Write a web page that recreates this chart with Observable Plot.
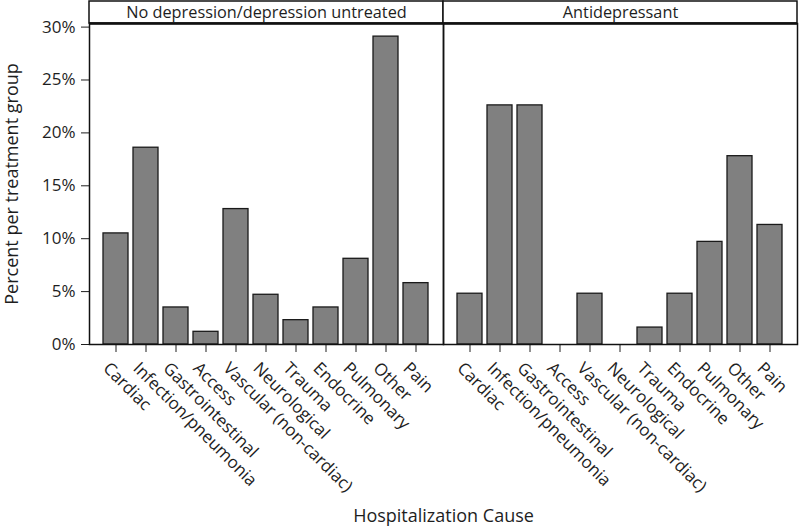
<!DOCTYPE html>
<html><head><meta charset="utf-8">
<script src="https://cdn.jsdelivr.net/npm/d3@7"></script>
<script src="https://cdn.jsdelivr.net/npm/@observablehq/plot@0.6"></script>
<style>body{margin:0;background:#fff}</style>
</head><body><div id="chart"></div>
<script>
const groups = ["No depression/depression untreated", "Antidepressant"];
const causes = ["Cardiac","Infection/pneumonia","Gastrointestinal","Access","Vascular (non-cardiac)","Neurological","Trauma","Endocrine","Pulmonary","Other","Pain"];
const untreated = [10.5, 18.6, 3.5, 1.2, 12.8, 4.7, 2.3, 3.5, 8.1, 29.1, 5.8];
const antidepressant = [4.8, 22.6, 22.6, 0, 4.8, 0, 1.6, 4.8, 9.7, 17.8, 11.3];
const yTicks = [0, 5, 10, 15, 20, 25, 30];

const data = [];
causes.forEach((c, i) => {
  data.push({group: groups[0], cause: c, pct: untreated[i]});
  data.push({group: groups[1], cause: c, pct: antidepressant[i]});
});
const headers = groups.map(g => ({group: g}));
const yMax = 30.34;
const headerUnits = 22 / 10.58;

const chart = Plot.plot({
  width: 800, height: 528,
  marginTop: 23, marginLeft: 88, marginRight: 3, marginBottom: 184,
  style: {fontFamily: "Open Sans", fontSize: "17px", color: "#1e1e1e", background: "white"},
  fx: {domain: groups, padding: 0, axis: null, label: null},
  x: {domain: causes, paddingInner: 0.152, paddingOuter: 0.349},
  y: {domain: [0, yMax]},
  marks: [
    Plot.barY(data.filter(d => d.pct > 0), {fx: "group", x: "cause", y: "pct", fill: "#808080", stroke: "#1a1a1a", strokeWidth: 1.3}),
    Plot.axisY({ticks: yTicks, tickFormat: d => d + "%", tickSize: 8, tickPadding: 6, label: null}),
    Plot.axisY({ticks: [], tickSize: 0, fontSize: 18,
      label: "Percent per treatment group", labelArrow: false, labelAnchor: "center", labelOffset: 84}),
    Plot.axisX({tickSize: 8, tickFormat: () => "", fontSize: 18,
      label: "Hospitalization Cause", labelArrow: false, labelAnchor: "center", labelOffset: 177}),
    Plot.axisX({tickSize: 0, tickRotate: 45, tickPadding: 5, dx: -10, dy: 16, label: null}),
    Plot.frame({stroke: "#111", strokeWidth: 1.5}),
    Plot.rect(headers, {fx: "group", y1: yMax, y2: yMax + headerUnits, stroke: "#111", strokeWidth: 1.5, fill: "white"}),
    Plot.ruleY([yMax], {stroke: "#111", strokeWidth: 2.5}),
    Plot.text(headers, {fx: "group", text: "group", frameAnchor: "top", lineAnchor: "middle", dy: -11, fill: "#1e1e1e", fontSize: 16.3})
  ]
});
document.getElementById("chart").appendChild(chart);
</script></body></html>
